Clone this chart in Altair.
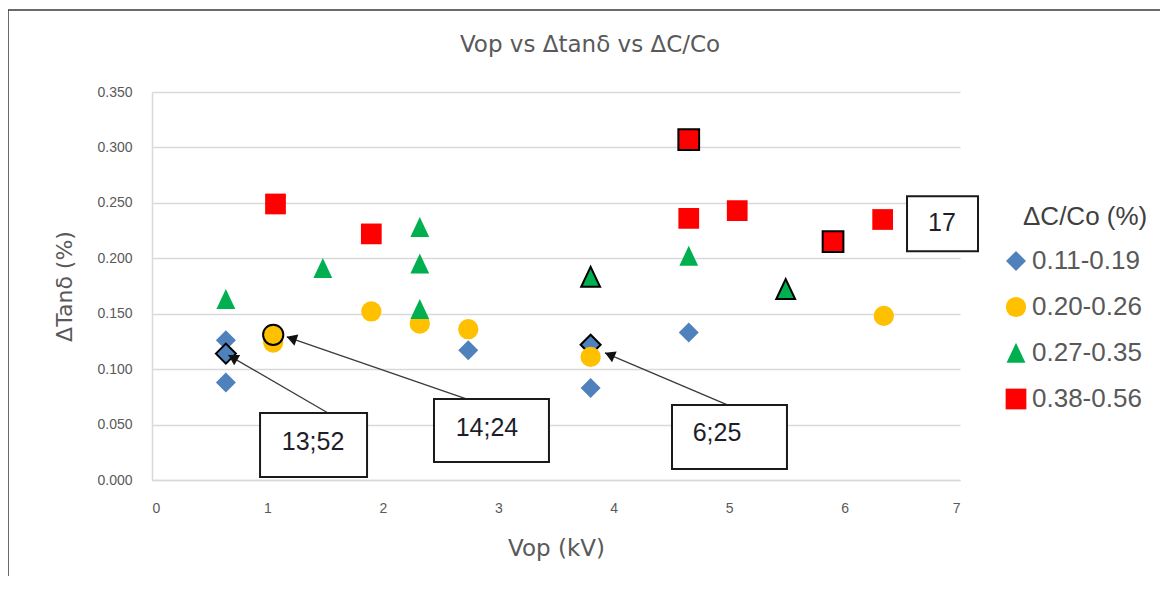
import math
import altair as alt
import pandas as pd

# ---------------- data ----------------
series_names = ["0.11-0.19", "0.20-0.26", "0.27-0.35", "0.38-0.56"]
series_colors = ["#4F81BD", "#FFC000", "#00B050", "#FF0000"]
series_shapes = ["diamond", "circle", "M0,-1L0.92,0.95L-0.92,0.95Z", "square"]
series_sizes = [400, 430, 400, 510]

blue_x = [0.64, 0.64, 0.64, 2.74, 3.80, 3.80, 4.65]
blue_y = [0.126, 0.088, 0.114, 0.117, 0.122, 0.083, 0.133]
blue_outline = [False, False, True, False, True, False, False]

yellow_x = [1.05, 1.05, 1.90, 2.32, 2.74, 3.80, 6.34]
yellow_y = [0.124, 0.131, 0.152, 0.141, 0.136, 0.111, 0.148]
yellow_outline = [False, True, False, False, False, False, False]

green_x = [0.64, 1.48, 2.32, 2.32, 2.32, 3.80, 4.65, 5.49]
green_y = [0.163, 0.191, 0.228, 0.195, 0.154, 0.183, 0.202, 0.172]
green_outline = [False, False, False, False, False, True, False, True]

red_x = [1.07, 1.90, 4.65, 4.65, 5.07, 5.90, 6.33]
red_y = [0.249, 0.222, 0.307, 0.236, 0.243, 0.215, 0.235]
red_outline = [False, False, True, False, False, True, False]

# annotation boxes (data coordinates)
box_labels = ["13;52", "14;24", "6;25", "17"]
box_x1 = [0.936, 2.443, 4.505, 6.541]
box_x2 = [1.863, 3.439, 5.501, 7.156]
box_y1 = [0.0604, 0.0730, 0.0676, 0.2560]
box_y2 = [0.0027, 0.0162, 0.0099, 0.2064]
label_x = [1.395, 2.902, 4.895, 6.844]
label_y = [0.0342, 0.0469, 0.0424, 0.2316]

# arrows: tail at box, tip at the point
arrow_tail_x = [1.525, 2.729, 4.990]
arrow_tail_y = [0.0604, 0.0730, 0.0676]
arrow_tip_x = [0.661, 1.167, 3.924]
arrow_tip_y = [0.1127, 0.1292, 0.1147]

x_ticks = [0, 1, 2, 3, 4, 5, 6, 7]
y_ticks = [0.0, 0.05, 0.10, 0.15, 0.20, 0.25, 0.30, 0.35]

chart_title = "Vop vs Δtanδ vs ΔC/Co"
legend_title = "ΔC/Co (%)"

# ---------------- layout ----------------
PW, PH = 808, 388
PAD_L, PAD_T = 144, 84
TOTAL_W, TOTAL_H = 1152, 568
SX = PW / 7.0
SY = PH / 0.35
HEAD_SIZE = 140

rows = []
for name, xs, ys, outs in [
    (series_names[0], blue_x, blue_y, blue_outline),
    (series_names[1], yellow_x, yellow_y, yellow_outline),
    (series_names[2], green_x, green_y, green_outline),
    (series_names[3], red_x, red_y, red_outline),
]:
    for x, y, o in zip(xs, ys, outs):
        rows.append({"vop": x, "dtan": y, "series": name, "outline": o})
df = pd.DataFrame(rows)
df["order"] = range(len(df))

boxes = pd.DataFrame({
    "label": box_labels, "x1": box_x1, "x2": box_x2, "y1": box_y1, "y2": box_y2,
    "tx": label_x, "ty": label_y,
})

h = math.sqrt(HEAD_SIZE) / 2 * math.sqrt(3) / 2
arr_rows = []
for tx, ty, px, py in zip(arrow_tail_x, arrow_tail_y, arrow_tip_x, arrow_tip_y):
    dxp = (px - tx) * SX
    dyp = -(py - ty) * SY
    ln = math.hypot(dxp, dyp)
    ux, uy = dxp / ln, dyp / ln
    ang = math.degrees(math.atan2(ux, -uy)) % 360
    cx = px - ux * h / SX
    cy = py + uy * h / SY
    arr_rows.append({"tx": tx, "ty": ty, "px": px, "py": py, "cx": cx, "cy": cy, "ang": ang})
arrows = pd.DataFrame(arr_rows)

xscale = alt.Scale(domain=[0, 7], nice=False)
yscale = alt.Scale(domain=[0, 0.35], nice=False)

x_axis = alt.Axis(
    values=x_ticks, format="d", labelFont="Liberation Sans", labelFontSize=14,
    labelColor="#595959", labelPadding=21, ticks=False, grid=False,
    domainColor="#D9D9D9", domainWidth=1.5, title="Vop (kV)", titleFont="DejaVu Sans",
    titleFontSize=23, titleFontWeight="normal", titleColor="#595959", titlePadding=22,
)
y_axis = alt.Axis(
    values=y_ticks, format=".3f", labelFont="Liberation Sans", labelFontSize=14,
    labelColor="#595959", labelPadding=20, ticks=False, grid=True, gridColor="#D9D9D9",
    gridWidth=1.5, domainColor="#D9D9D9", domainWidth=1.5, title="ΔTanδ (%)",
    titleFont="DejaVu Sans", titleFontSize=22, titleFontWeight="normal",
    titleColor="#595959", titlePadding=20,
)

one = pd.DataFrame({"a": [0]})

frame = alt.Chart(one).mark_rect(
    fill="white", fillOpacity=0, stroke="#3a3a3a", strokeWidth=1.5
).encode(
    x=alt.value(-PAD_L), x2=alt.value(3000), y=alt.value(-82), y2=alt.value(3000)
)

title_text = alt.Chart(pd.DataFrame({"t": [chart_title]})).mark_text(
    font="DejaVu Sans", fontSize=23, color="#595959", align="center", baseline="alphabetic"
).encode(x=alt.value(438), y=alt.value(-40), text="t:N")

legend_title_text = alt.Chart(pd.DataFrame({"t": [legend_title]})).mark_text(
    font="Liberation Sans", fontSize=26, color="#404040", align="left", baseline="middle"
).encode(x=alt.value(871), y=alt.value(125), text="t:N")

points = alt.Chart(df).mark_point(filled=True, opacity=1, stroke="black").encode(
    x=alt.X("vop:Q", scale=xscale, axis=x_axis),
    y=alt.Y("dtan:Q", scale=yscale, axis=y_axis),
    color=alt.Color(
        "series:N",
        scale=alt.Scale(domain=series_names, range=series_colors),
        legend=alt.Legend(
            title=None, orient="none", legendX=851, legendY=156,
            symbolSize=220, symbolStrokeWidth=0, symbolOpacity=1,
            labelFont="Liberation Sans", labelFontSize=26, labelColor="#595959",
            rowPadding=20, labelOffset=3,
        ),
    ),
    shape=alt.Shape("series:N", scale=alt.Scale(domain=series_names, range=series_shapes)),
    size=alt.Size("series:N", scale=alt.Scale(domain=series_names, range=series_sizes), legend=None),
    strokeWidth=alt.condition("datum.outline", alt.value(2), alt.value(0)),
    order="order:Q",
)

lines = alt.Chart(arrows).mark_rule(color="#3a3a3a", strokeWidth=1.3).encode(
    x="tx:Q", y="ty:Q", x2="px:Q", y2="py:Q"
)
heads = alt.Chart(arrows).mark_point(
    shape="triangle-up", filled=True, color="#111111", size=HEAD_SIZE, opacity=1
).encode(x="cx:Q", y="cy:Q", angle=alt.Angle("ang:Q", scale=None))

rects = alt.Chart(boxes).mark_rect(fill="white", stroke="#1a1a1a", strokeWidth=2).encode(
    x="x1:Q", x2="x2:Q", y="y1:Q", y2="y2:Q"
)
texts = alt.Chart(boxes).mark_text(
    font="Liberation Sans", fontSize=25, color="#1e1e2a", align="center", baseline="middle"
).encode(x="tx:Q", y="ty:Q", text="label:N")

chart = alt.layer(frame, title_text, legend_title_text, points, lines, heads, rects, texts).properties(
    width=PW, height=PH,
    padding={"left": PAD_L, "top": PAD_T, "right": TOTAL_W - PAD_L - PW, "bottom": TOTAL_H - PAD_T - PH},
    autosize=alt.AutoSizeParams(type="none"),
    background="white",
).configure_view(stroke=None)

chart.save("out.html", embed_options={"renderer": "svg", "actions": False})
